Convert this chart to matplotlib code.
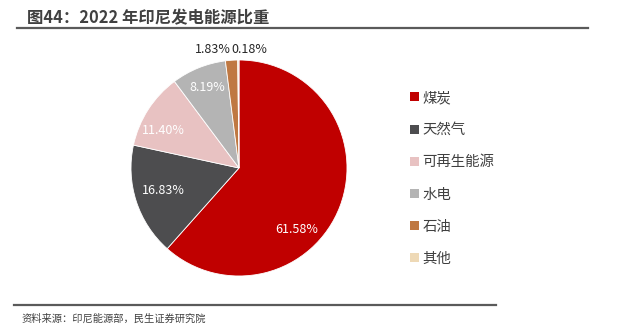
import matplotlib
matplotlib.use('Agg')
import matplotlib.pyplot as plt
from matplotlib.patches import Patch
from matplotlib.lines import Line2D

plt.rcParams['font.family'] = ['Noto Sans CJK SC', 'DejaVu Sans']

# 2022 Indonesia power generation mix
SOURCES = ['煤炭', '天然气', '可再生能源', '水电', '石油', '其他']
SHARES = [61.58, 16.83, 11.40, 8.19, 1.83, 0.18]
COLORS = ['#C00000', '#4D4D4F', '#E8C2C2', '#B4B4B4', '#BF7842', '#EED9B6']

W, H = 621, 331
fig = plt.figure(figsize=(W / 100, H / 100), dpi=100)

def fx(px):
	return px / W

def fy(py):
	return 1 - py / H

# title and rules
fig.text(fx(27), fy(18), '图44：2022 年印尼发电能源比重', fontsize=11.8, fontweight='bold',
	color='#404040', va='center', ha='left')
fig.add_artist(Line2D([fx(17), fx(588)], [fy(28), fy(28)], color='#5A5A5A', lw=1.6))
fig.add_artist(Line2D([fx(14), fx(496)], [fy(305), fy(305)], color='#5A5A5A', lw=1.6))
fig.text(fx(22), fy(319), '资料来源：印尼能源部，民生证券研究院', fontsize=7.4,
	color='#404040', va='center', ha='left')

# pie centred at (239,168), radius 108
r = 108
ax = fig.add_axes([fx(239 - r), fy(168 + r), 2 * r / W, 2 * r / H])
wedges, _ = ax.pie(SHARES, colors=COLORS, startangle=90, counterclock=False,
	wedgeprops=dict(edgecolor='white', linewidth=0.6))
ax.set_xlim(-1, 1)
ax.set_ylim(-1, 1)
ax.set_aspect('equal')
ax.axis('off')

# label spots in pie units (radius 1)
label_pos = [(0.537, -0.565), (-0.704, -0.204), (-0.704, 0.343), (-0.296, 0.741),
	(-0.24, 1.10), (0.10, 1.10)]
for i, (v, (lx, ly)) in enumerate(zip(SHARES, label_pos)):
	ax.text(lx, ly, '%.2f%%' % v, fontsize=9, ha='center', va='center',
		color='white' if i < 4 else '#262626', clip_on=False)

handles = [Patch(facecolor=c, edgecolor='none') for c in COLORS]
fig.legend(handles, SOURCES, loc='upper left', bbox_to_anchor=(fx(397), fy(78)),
	frameon=False, fontsize=10.4, handlelength=0.6, handleheight=0.6,
	handletextpad=0.25, labelspacing=1.26, labelcolor='#404040')

fig.savefig('out.png', dpi=100)
